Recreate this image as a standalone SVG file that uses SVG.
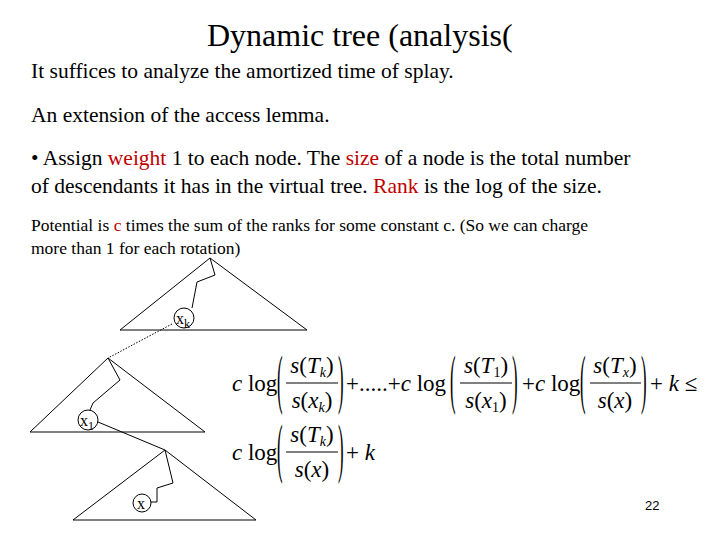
<svg xmlns="http://www.w3.org/2000/svg" width="720" height="540" viewBox="0 0 720 540">
<style>
.r{fill:#c00000}
.i{font-style:italic}
.ln{stroke:#000;stroke-width:1;fill:none}
</style>
<rect width="720" height="540" fill="#fff"/>
<g font-family="Liberation Serif">
<text x="207" y="46" font-size="32">Dynamic tree (analysis(</text>
<text x="31" y="78" font-size="21.5">It suffices to analyze the amortized time of splay.</text>
<text x="31" y="122" font-size="21.5">An extension of the access lemma.</text>
<text x="31" y="165" font-size="21.5">&#8226; Assign <tspan class="r">weight</tspan> 1 to each node. The <tspan class="r">size</tspan> of a node is the total number</text>
<text x="31" y="193" font-size="21.5">of descendants it has in the virtual tree. <tspan class="r">Rank</tspan> is the log of the size.</text>
<text x="31" y="231" font-size="17.5">Potential is <tspan class="r">c</tspan> times the sum of the ranks for some constant c. (So we can charge</text>
<text x="31" y="254" font-size="17.5">more than 1 for each rotation)</text>
</g>
<g id="tree1">
<polygon class="ln" points="210,258 120,330 307,330"/>
<polyline class="ln" points="210,258 215,275 197,282 192,308"/>
<circle class="ln" cx="184" cy="318" r="10"/>
<text font-family="Liberation Serif" x="176" y="324" font-size="16">x<tspan font-size="12" dy="4">k</tspan></text>
</g>
<g id="tree2">
<polygon class="ln" points="108,358 30,432 205,432"/>
<polyline class="ln" points="108,358 120,380 93,403 90,410"/>
<circle class="ln" cx="88" cy="420" r="10"/>
<text font-family="Liberation Serif" x="80" y="426" font-size="16">x<tspan font-size="12" dy="4">1</tspan></text>
</g>
<g id="tree3">
<polygon class="ln" points="165,450 73,520 256,520"/>
<polyline class="ln" points="165,450 173,483 157,488 157,502 151,502"/>
<circle class="ln" cx="142" cy="503" r="9"/>
<text font-family="Liberation Serif" x="137" y="509" font-size="16">x</text>
</g>
<g id="connectors">
<line class="ln" x1="172" y1="324" x2="108" y2="358" stroke-dasharray="1.5,1.5"/>
<line class="ln" x1="98" y1="422" x2="165" y2="450"/>
</g>
<g id="eq1" font-family="Liberation Serif" font-size="23">
<text x="232" y="391"><tspan class="i">c</tspan> log</text>
<text font-size="24" transform="translate(277,401) scale(0.7,2.7)">(</text>
<text x="312" y="373" text-anchor="middle"><tspan class="i">s</tspan>(<tspan class="i">T</tspan><tspan class="i" font-size="14" dy="4">k</tspan><tspan dy="-4">)</tspan></text>
<line class="ln" x1="286" y1="383" x2="338" y2="383"/>
<text x="312" y="408" text-anchor="middle"><tspan class="i">s</tspan>(<tspan class="i">x</tspan><tspan class="i" font-size="14" dy="4">k</tspan><tspan dy="-4">)</tspan></text>
<text font-size="24" transform="translate(338,401) scale(0.7,2.7)">)</text>
<text x="346" y="391">+.....+<tspan class="i">c</tspan> log</text>
<text font-size="24" transform="translate(450,401) scale(0.7,2.7)">(</text>
<text x="486" y="373" text-anchor="middle"><tspan class="i">s</tspan>(<tspan class="i">T</tspan><tspan font-size="14" dy="4">1</tspan><tspan dy="-4">)</tspan></text>
<line class="ln" x1="460" y1="383" x2="512" y2="383"/>
<text x="486" y="408" text-anchor="middle"><tspan class="i">s</tspan>(<tspan class="i">x</tspan><tspan font-size="14" dy="4">1</tspan><tspan dy="-4">)</tspan></text>
<text font-size="24" transform="translate(512,401) scale(0.7,2.7)">)</text>
<text x="522" y="391">+<tspan class="i">c</tspan> log</text>
<text font-size="24" transform="translate(580,401) scale(0.7,2.7)">(</text>
<text x="615" y="373" text-anchor="middle"><tspan class="i">s</tspan>(<tspan class="i">T</tspan><tspan class="i" font-size="14" dy="4">x</tspan><tspan dy="-4">)</tspan></text>
<line class="ln" x1="590" y1="383" x2="641" y2="383"/>
<text x="615" y="408" text-anchor="middle"><tspan class="i">s</tspan>(<tspan class="i">x</tspan>)</text>
<text font-size="24" transform="translate(641,401) scale(0.7,2.7)">)</text>
<text x="650" y="391">+ <tspan class="i">k</tspan> &#8804;</text>
</g>
<g id="eq2" font-family="Liberation Serif" font-size="23">
<text x="232" y="460"><tspan class="i">c</tspan> log</text>
<text font-size="24" transform="translate(277,470) scale(0.7,2.7)">(</text>
<text x="312" y="442" text-anchor="middle"><tspan class="i">s</tspan>(<tspan class="i">T</tspan><tspan class="i" font-size="14" dy="4">k</tspan><tspan dy="-4">)</tspan></text>
<line class="ln" x1="286" y1="452" x2="338" y2="452"/>
<text x="312" y="477" text-anchor="middle"><tspan class="i">s</tspan>(<tspan class="i">x</tspan>)</text>
<text font-size="24" transform="translate(338,470) scale(0.7,2.7)">)</text>
<text x="346" y="460">+ <tspan class="i">k</tspan></text>
</g>
<text x="645" y="510" font-size="13" font-family="Liberation Sans">22</text>
</svg>
